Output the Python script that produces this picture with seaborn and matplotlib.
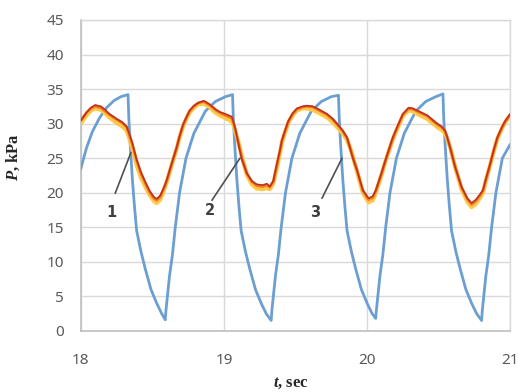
import matplotlib
matplotlib.use("Agg")
import matplotlib.pyplot as plt
import seaborn as sns
import pandas as pd

# ---- data ----
T_BLUE = [18.00, 18.04, 18.08, 18.13, 18.18, 18.23, 18.28, 18.33,
          18.335, 18.345, 18.36, 18.375, 18.39, 18.42, 18.45, 18.49, 18.53, 18.565, 18.59,
          18.595, 18.605, 18.62, 18.64, 18.66, 18.69, 18.735, 18.79, 18.87, 18.94, 19.01, 19.06,
          19.065, 19.075, 19.09, 19.105, 19.12, 19.15, 19.18, 19.22, 19.26, 19.295, 19.33,
          19.335, 19.345, 19.36, 19.38, 19.40, 19.43, 19.475, 19.53, 19.61, 19.68, 19.75, 19.80,
          19.805, 19.815, 19.83, 19.845, 19.86, 19.89, 19.92, 19.96, 20.00, 20.035, 20.06,
          20.065, 20.075, 20.09, 20.11, 20.13, 20.16, 20.205, 20.26, 20.34, 20.41, 20.48, 20.53,
          20.535, 20.545, 20.56, 20.575, 20.59, 20.62, 20.65, 20.69, 20.73, 20.765, 20.80,
          20.805, 20.815, 20.83, 20.85, 20.87, 20.90, 20.945, 21.00]
P_BLUE = [23.5, 26.5, 28.8, 30.8, 32.3, 33.3, 33.9, 34.2,
          31.0, 27.0, 22.0, 18.0, 14.5, 11.5, 9.0, 6.0, 4.0, 2.5, 1.6,
          3.0, 5.0, 8.0, 11.0, 15.0, 20.0, 25.0, 28.6, 31.8, 33.2, 33.9, 34.2,
          31.0, 27.0, 22.0, 18.0, 14.5, 11.5, 9.0, 6.0, 4.0, 2.5, 1.5,
          3.0, 5.0, 8.0, 11.0, 15.0, 20.0, 25.0, 28.6, 31.8, 33.2, 33.9, 34.1,
          31.0, 27.0, 22.0, 18.0, 14.5, 11.5, 9.0, 6.0, 4.0, 2.5, 1.8,
          3.0, 5.0, 8.0, 11.0, 15.0, 20.0, 25.0, 28.6, 31.8, 33.2, 33.9, 34.3,
          31.0, 27.0, 22.0, 18.0, 14.5, 11.5, 9.0, 6.0, 4.0, 2.5, 1.5,
          3.0, 5.0, 8.0, 11.0, 15.0, 20.0, 25.0, 27.0]

T_CURVES = [18.00, 18.04, 18.07, 18.10, 18.14, 18.17, 18.20, 18.25, 18.29, 18.32,
            18.34, 18.36, 18.39, 18.42, 18.45, 18.48, 18.51, 18.53, 18.555, 18.58,
            18.60, 18.62, 18.645, 18.67, 18.69, 18.715, 18.74, 18.76, 18.79, 18.82,
            18.86, 18.90, 18.94, 18.97, 19.01, 19.055, 19.07, 19.08, 19.10, 19.125,
            19.16, 19.195, 19.23, 19.27, 19.30, 19.32, 19.345, 19.37, 19.39, 19.405,
            19.43, 19.45, 19.48, 19.51, 19.55, 19.58, 19.62, 19.65, 19.72, 19.76,
            19.79, 19.83, 19.86, 19.88, 19.90, 19.93, 19.97, 20.01, 20.04, 20.06,
            20.10, 20.125, 20.15, 20.18, 20.21, 20.25, 20.29, 20.32, 20.35, 20.42,
            20.49, 20.52, 20.545, 20.56, 20.58, 20.615, 20.66, 20.70, 20.73, 20.76,
            20.79, 20.81, 20.83, 20.86, 20.885, 20.91, 20.94, 20.965, 21.00]
P_RED = [30.4, 31.6, 32.3, 32.7, 32.5, 32.0, 31.4, 30.7, 30.2, 29.6,
         28.5, 27.2, 24.8, 23.0, 21.6, 20.3, 19.4, 19.1, 19.6, 20.7,
         21.8, 23.2, 24.9, 26.6, 28.2, 29.9, 31.0, 31.9, 32.6, 33.0,
         33.3, 32.8, 32.1, 31.7, 31.4, 31.0, 30.0, 29.2, 27.2, 24.8,
         22.8, 21.7, 21.2, 21.1, 21.3, 20.9, 21.7, 24.2, 26.0, 27.6,
         29.2, 30.4, 31.5, 32.2, 32.5, 32.6, 32.5, 32.2, 31.4, 30.7,
         30.0, 29.0, 28.0, 26.5, 25.0, 23.2, 20.4, 19.2, 19.5, 20.3,
         22.8, 24.5, 26.1, 28.0, 29.5, 31.4, 32.3, 32.2, 31.9, 31.2,
         30.0, 29.6, 29.0, 28.0, 26.5, 23.7, 20.8, 19.2, 18.5, 19.0,
         19.8, 20.4, 22.0, 24.2, 26.2, 28.0, 29.4, 30.4, 31.4]
P_ORANGE = [30.5, 31.6, 32.2, 32.5, 32.3, 31.8, 31.3, 30.6, 30.1, 29.5,
            28.3, 27.0, 24.7, 22.8, 21.4, 20.1, 19.2, 18.9, 19.4, 20.6,
            21.7, 23.1, 24.8, 26.5, 28.1, 29.8, 31.0, 31.8, 32.5, 33.0,
            33.2, 32.7, 32.0, 31.6, 31.2, 30.8, 29.9, 29.1, 27.3, 25.0,
            22.8, 21.6, 21.0, 20.9, 21.1, 20.8, 21.6, 24.0, 25.9, 27.5,
            29.1, 30.3, 31.4, 32.1, 32.4, 32.5, 32.4, 32.1, 31.3, 30.6,
            29.9, 28.9, 27.9, 26.6, 25.2, 23.3, 20.3, 19.0, 19.3, 20.2,
            22.7, 24.4, 26.0, 27.9, 29.4, 31.3, 32.2, 32.1, 31.8, 31.1,
            29.9, 29.5, 28.9, 28.0, 26.6, 23.8, 20.8, 19.1, 18.3, 18.8,
            19.6, 20.3, 21.9, 24.1, 26.1, 27.9, 29.3, 30.3, 31.3]
P_YELLOW = [30.0, 31.2, 31.9, 32.2, 32.0, 31.5, 30.9, 30.1, 29.6, 29.0,
            27.8, 26.4, 24.0, 22.2, 20.9, 19.7, 18.8, 18.5, 19.0, 20.3,
            21.5, 22.9, 24.7, 26.4, 28.0, 29.6, 30.8, 31.6, 32.3, 32.8,
            32.9, 32.4, 31.6, 31.2, 30.8, 30.3, 29.6, 28.8, 27.4, 25.3,
            22.6, 21.2, 20.6, 20.5, 20.7, 20.5, 21.3, 23.6, 25.6, 27.2,
            28.9, 30.1, 31.2, 31.9, 32.2, 32.2, 32.0, 31.7, 30.9, 30.2,
            29.5, 28.6, 27.6, 26.6, 25.3, 23.0, 20.0, 18.6, 18.9, 19.9,
            22.5, 24.3, 25.9, 27.7, 29.2, 31.1, 31.9, 31.8, 31.4, 30.7,
            29.5, 29.1, 28.6, 27.8, 26.6, 23.7, 20.5, 18.7, 17.9, 18.4,
            19.3, 20.0, 21.7, 24.0, 26.0, 27.8, 29.2, 30.2, 31.2]

CURVE_LABELS = ["1", "2", "3"]
LABEL_T = [18.217, 18.90, 19.64]
LABEL_P = [17.2, 17.4, 17.2]
LEADER_T0 = [18.24, 18.916, 19.685]
LEADER_P0 = [19.9, 18.9, 19.2]
LEADER_T1 = [18.35, 19.112, 19.825]
LEADER_P1 = [25.8, 25.0, 25.0]

X_TICKS = [18, 19, 20, 21]
Y_TICKS = [0, 5, 10, 15, 20, 25, 30, 35, 40, 45]

# ---- figure ----
sns.set_style("white")
plt.rcParams["font.family"] = ["Noto Sans", "DejaVu Sans"]
plt.rcParams["mathtext.fontset"] = "custom"
plt.rcParams["mathtext.bfit"] = "Liberation Serif:italic:bold"
plt.rcParams["mathtext.it"] = "Liberation Serif:italic:bold"
plt.rcParams["mathtext.rm"] = "Liberation Serif:bold"

fig = plt.figure(figsize=(5.18, 3.92), dpi=100)
ax = fig.add_axes([0.156, 0.156, 0.829, 0.793])

blue_df = pd.DataFrame({"t": T_BLUE, "P": P_BLUE})
curves_df = pd.DataFrame({"t": T_CURVES, "red": P_RED, "orange": P_ORANGE, "yellow": P_YELLOW})

sns.lineplot(data=blue_df, x="t", y="P", ax=ax, color="#6b9fd2", lw=2.0,
             sort=False, estimator=None, zorder=3)
sns.lineplot(data=curves_df, x="t", y="yellow", ax=ax, color="#ffc846", lw=3.0,
             sort=False, estimator=None, zorder=4)
sns.lineplot(data=curves_df, x="t", y="orange", ax=ax, color="#f07a2a", lw=2.0,
             sort=False, estimator=None, zorder=5)
sns.lineplot(data=curves_df, x="t", y="red", ax=ax, color="#c0301e", lw=1.2,
             sort=False, estimator=None, zorder=6)

for lab, lt, lp, t0, p0, t1, p1 in zip(CURVE_LABELS, LABEL_T, LABEL_P,
                                        LEADER_T0, LEADER_P0, LEADER_T1, LEADER_P1):
    ax.plot([t0, t1], [p0, p1], color="#505050", lw=1.2, zorder=7)
    ax.text(lt, lp, lab, ha="center", va="center", fontsize=10.5, color="#404040",
            fontweight="bold", family="DejaVu Sans", zorder=8)

ax.set_xlim(18, 21)
ax.set_ylim(0, 45)
ax.set_xticks(X_TICKS)
ax.set_yticks(Y_TICKS)
ax.set_xticklabels([str(v) for v in X_TICKS])
ax.set_yticklabels([str(v) for v in Y_TICKS])
ax.grid(True, color="#d9d9d9", lw=1.0, zorder=0)
ax.set_axisbelow(True)
for side in ["top", "right"]:
    ax.spines[side].set_color("#d9d9d9")
    ax.spines[side].set_linewidth(1.0)
for side in ["left", "bottom"]:
    ax.spines[side].set_color("#bfbfbf")
    ax.spines[side].set_linewidth(1.2)
ax.tick_params(axis="both", length=0, labelsize=11, labelcolor="#595959")
ax.tick_params(axis="x", pad=16)
ax.tick_params(axis="y", pad=12)

ax.set_xlabel(r"$t$, sec", fontsize=12, fontweight="bold", family="Liberation Serif")
ax.set_ylabel(r"$P$, kPa", fontsize=12, fontweight="bold", family="Liberation Serif")
ax.xaxis.set_label_coords(0.49, -0.142)
ax.yaxis.set_label_coords(-0.137, 0.56)

fig.savefig("out.png", dpi=100)
